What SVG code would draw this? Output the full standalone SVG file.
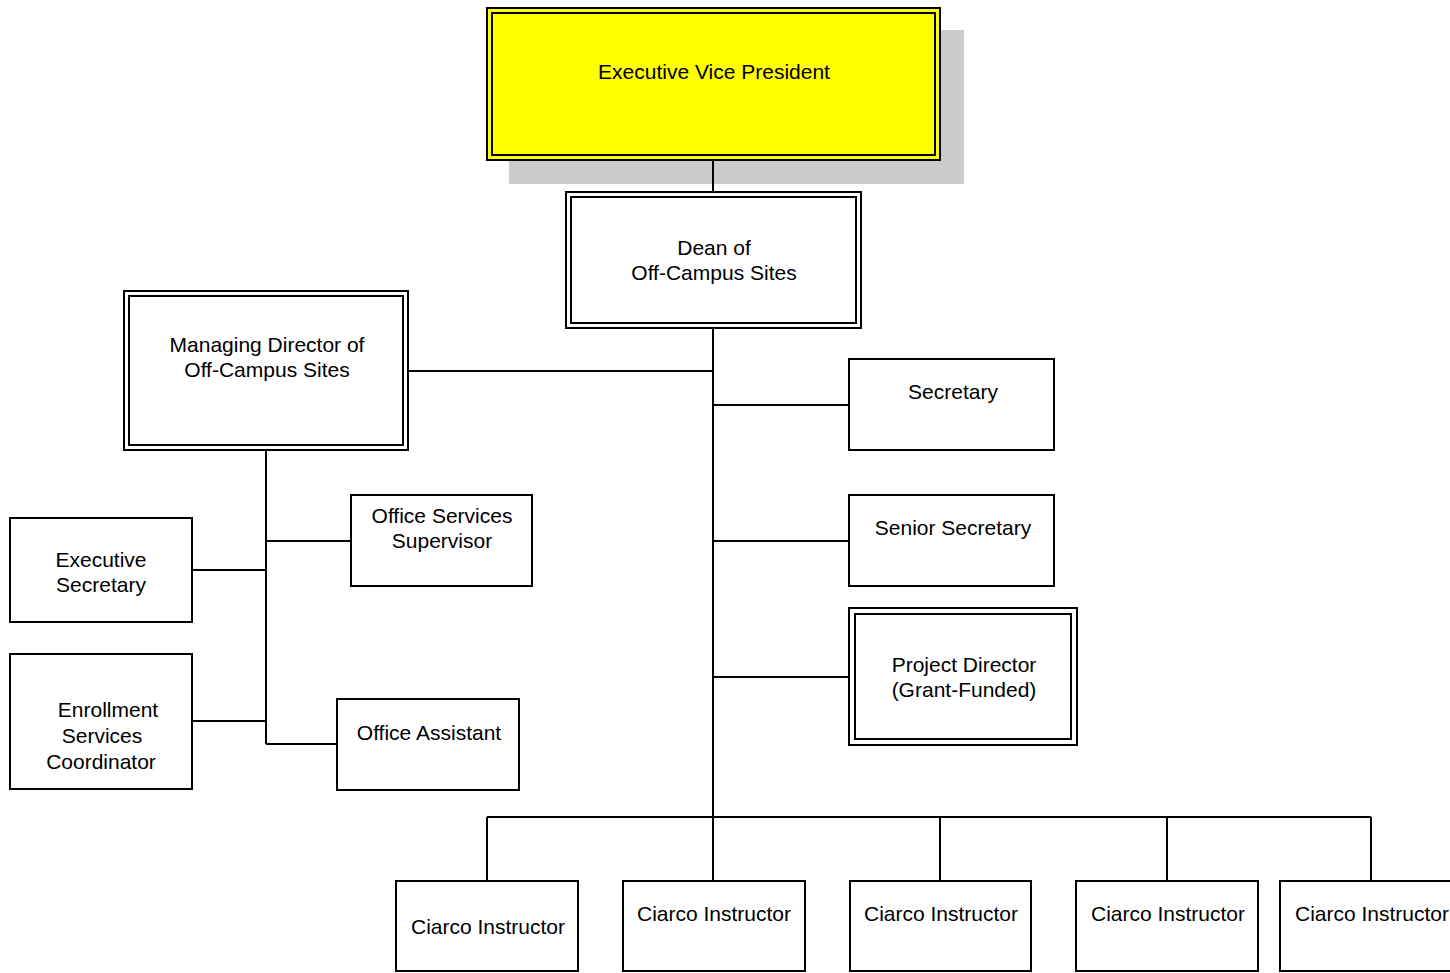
<svg xmlns="http://www.w3.org/2000/svg" width="1450" height="973" viewBox="0 0 1450 973">
<style>
.box{fill:#fff;stroke:#000;stroke-width:2}
.inner{fill:none;stroke:#000;stroke-width:2}
.ln{fill:none;stroke:#000;stroke-width:2}
text{font-family:"Liberation Sans",Arial,sans-serif;font-size:21px;fill:#000;text-anchor:middle}
</style>
<rect width="1450" height="973" fill="#fff"/>
<g id="evp">
<rect x="509" y="30" width="455" height="154" fill="#ccc"/>
<rect x="487" y="8" width="453" height="152" fill="#ff0" stroke="#000" stroke-width="2"/>
<rect x="492" y="13" width="443" height="142" class="inner"/>
<text x="714" y="79">Executive Vice President</text>
</g>
<g id="dean">
<rect x="566" y="192" width="295" height="136" class="box"/>
<rect x="571" y="197" width="285" height="126" class="inner"/>
<text x="714" y="255">Dean of</text>
<text x="714" y="280">Off-Campus Sites</text>
</g>
<g id="managing">
<rect x="124" y="291" width="284" height="159" class="box"/>
<rect x="129" y="296" width="274" height="149" class="inner"/>
<text x="267" y="352">Managing Director of</text>
<text x="267" y="377">Off-Campus Sites</text>
</g>
<g id="secretary">
<rect x="849" y="359" width="205" height="91" class="box"/>
<text x="953" y="399">Secretary</text>
</g>
<g id="senior-secretary">
<rect x="849" y="495" width="205" height="91" class="box"/>
<text x="953" y="535">Senior Secretary</text>
</g>
<g id="project-director">
<rect x="849" y="608" width="228" height="137" class="box"/>
<rect x="855" y="614" width="216" height="125" class="inner"/>
<text x="964" y="672">Project Director</text>
<text x="964" y="697">(Grant-Funded)</text>
</g>
<g id="office-services-supervisor">
<rect x="351" y="495" width="181" height="91" class="box"/>
<text x="442" y="523">Office Services</text>
<text x="442" y="548">Supervisor</text>
</g>
<g id="office-assistant">
<rect x="337" y="699" width="182" height="91" class="box"/>
<text x="429" y="740">Office Assistant</text>
</g>
<g id="executive-secretary">
<rect x="10" y="518" width="182" height="104" class="box"/>
<text x="101" y="567">Executive</text>
<text x="101" y="592">Secretary</text>
</g>
<g id="enrollment">
<rect x="10" y="654" width="182" height="135" class="box"/>
<text x="108" y="717">Enrollment</text>
<text x="102" y="743">Services</text>
<text x="101" y="769">Coordinator</text>
</g>
<g id="ciarco-1">
<rect x="396" y="881" width="182" height="90" class="box"/>
<text x="488" y="934">Ciarco Instructor</text>
</g>
<g id="ciarco-2">
<rect x="623" y="881" width="182" height="90" class="box"/>
<text x="714" y="921">Ciarco Instructor</text>
</g>
<g id="ciarco-3">
<rect x="850" y="881" width="181" height="90" class="box"/>
<text x="941" y="921">Ciarco Instructor</text>
</g>
<g id="ciarco-4">
<rect x="1076" y="881" width="182" height="90" class="box"/>
<text x="1168" y="921">Ciarco Instructor</text>
</g>
<g id="ciarco-5">
<rect x="1280" y="881" width="182" height="90" class="box"/>
<text x="1372" y="921">Ciarco Instructor</text>
</g>
<g id="connectors">
<path class="ln" d="M713 161V191M713 329V817M409 371H713M713 405H848M713 541H848M713 677H848M487 817H1371M487 817V880M713 817V880M940 817V880M1167 817V880M1371 817V880"/>
<path class="ln" d="M266 451V744M266 541H350M193 570H266M193 721H266M266 744H336"/>
</g>
</svg>
